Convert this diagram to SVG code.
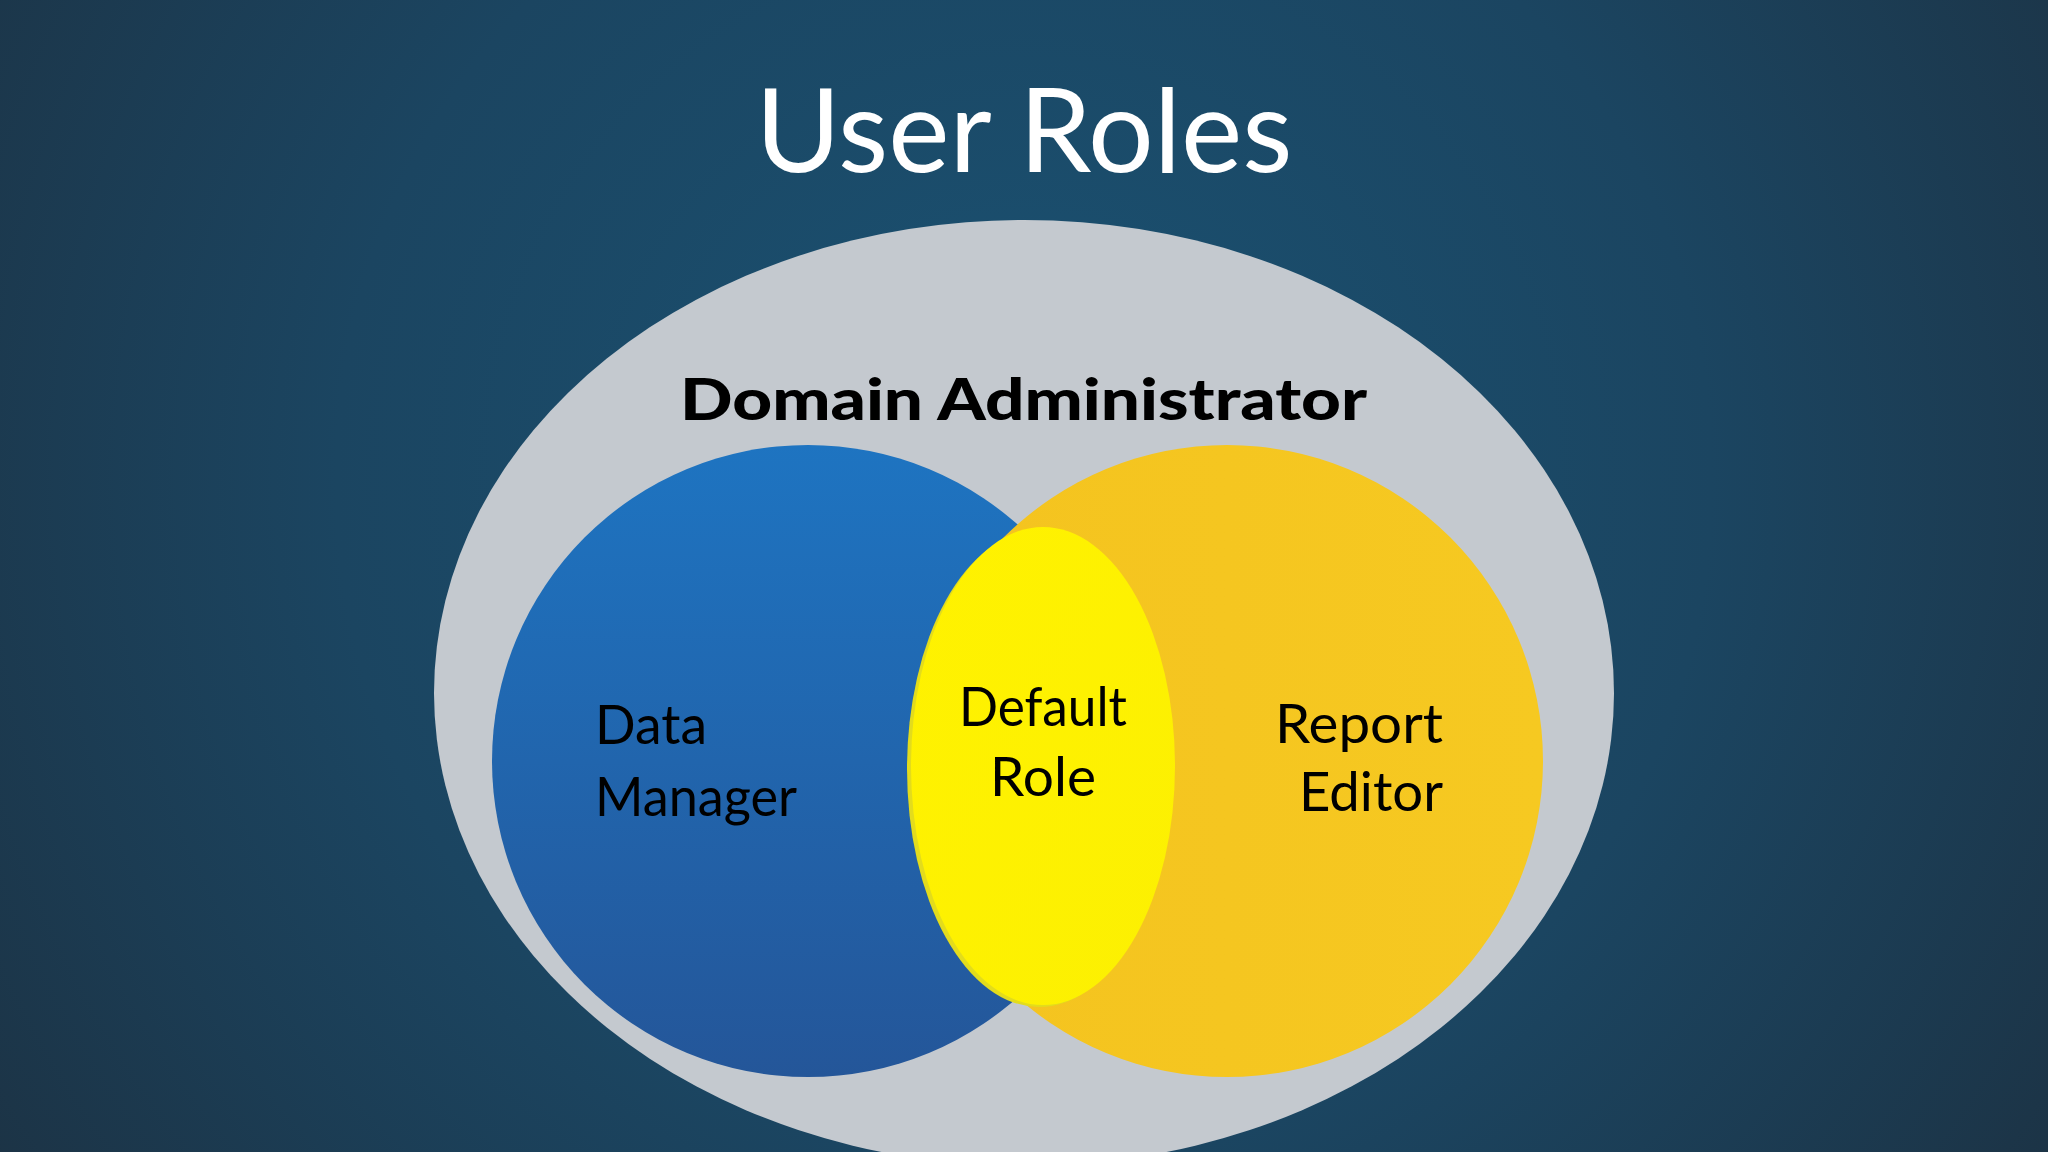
<svg xmlns="http://www.w3.org/2000/svg" width="2048" height="1152" viewBox="0 0 2048 1152">
  <defs>
    <radialGradient id="bg" cx="1024" cy="480" r="1250" gradientUnits="userSpaceOnUse">
      <stop offset="0" stop-color="#1a5273"/>
      <stop offset="0.55" stop-color="#1b4561"/>
      <stop offset="1" stop-color="#1c3345"/>
    </radialGradient>
    <linearGradient id="blueG" x1="0" y1="0" x2="0" y2="1">
      <stop offset="0" stop-color="#1e74c1"/>
      <stop offset="1" stop-color="#245699"/>
    </linearGradient>
    <linearGradient id="yellowG" x1="0" y1="0" x2="1" y2="0">
      <stop offset="0" stop-color="#f4c31f"/>
      <stop offset="1" stop-color="#f6c921"/>
    </linearGradient>
    <linearGradient id="innerG" x1="0" y1="0" x2="1" y2="1">
      <stop offset="0" stop-color="#fff200"/>
      <stop offset="1" stop-color="#fcf002"/>
    </linearGradient>
    <style>
      .title { font-family: "Lato", "Liberation Sans", sans-serif; font-size: 116px; fill: #ffffff; }
      .admin { font-family: "Lato", "Liberation Sans", sans-serif; font-size: 58px; font-weight: 900; fill: #000000; }
      .lbl { font-family: "Lato", "Liberation Sans", sans-serif; font-size: 55px; fill: #000000; }
    </style>
  </defs>

  <rect x="0" y="0" width="2048" height="1152" fill="url(#bg)"/>

  <g id="title">
    <text class="title" x="1024" y="172" text-anchor="middle">User Roles</text>
  </g>

  <g id="domain-administrator">
    <ellipse cx="1024" cy="693" rx="590" ry="473" fill="#c4c9cf"/>
    <text class="admin" x="680" y="420" textLength="687" lengthAdjust="spacingAndGlyphs">Domain Administrator</text>
  </g>

  <g id="data-manager">
    <circle cx="808" cy="761" r="316" fill="url(#blueG)"/>
    <text class="lbl" x="595" y="744" textLength="112" lengthAdjust="spacingAndGlyphs">Data</text>
    <text class="lbl" x="595" y="816" textLength="202" lengthAdjust="spacingAndGlyphs">Manager</text>
  </g>

  <g id="report-editor">
    <circle cx="1227" cy="761" r="316" fill="url(#yellowG)"/>
    <text class="lbl" x="1275" y="743" textLength="168" lengthAdjust="spacingAndGlyphs">Report</text>
    <text class="lbl" x="1299" y="811" textLength="144" lengthAdjust="spacingAndGlyphs">Editor</text>
  </g>

  <g id="default-role">
    <ellipse cx="1039" cy="769" rx="132" ry="238" fill="#e3dc1c"/>
    <ellipse cx="1043" cy="766" rx="132" ry="239" fill="url(#innerG)"/>
    <text class="lbl" x="959" y="726" textLength="168" lengthAdjust="spacingAndGlyphs">Default</text>
    <text class="lbl" x="1043" y="796" text-anchor="middle">Role</text>
  </g>
</svg>
